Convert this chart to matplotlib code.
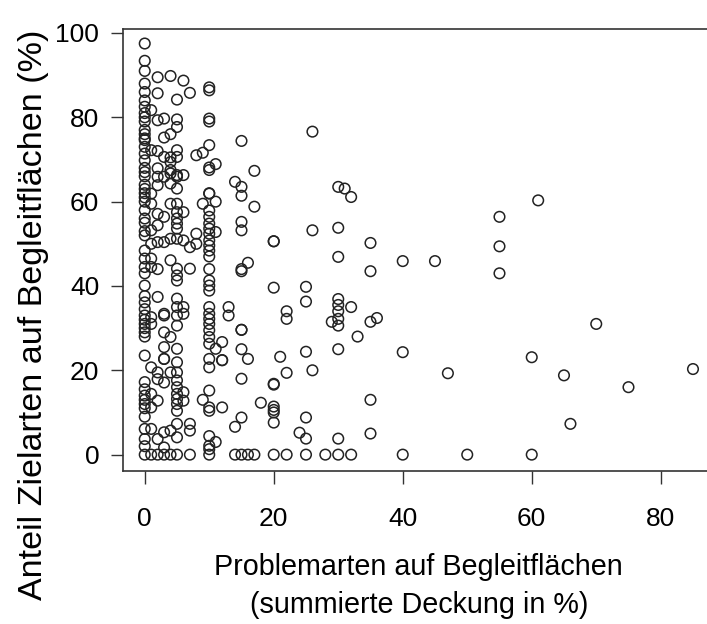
import matplotlib
matplotlib.use("Agg")
import matplotlib.pyplot as plt
import numpy as np

plt.rcParams['font.family'] = ['Liberation Sans', 'DejaVu Sans']

# Zielarten-Anteil (%) je Deckung der Problemarten (%), dichte Spalten
y_at_0 = [97.5, 93.4, 91, 88, 86, 84, 82.5, 81, 80, 79, 77, 76, 75, 74.6, 73, 71.4,
          69.8, 68, 67, 66, 64, 63, 62, 61, 60, 58, 56, 55, 53, 52, 48.4, 46.5, 44.5,
          43, 40.1, 37.6, 36.1, 34.5, 33, 32, 31, 30, 29, 28, 23.5, 17.2, 15.5, 14,
          13, 12, 11, 9, 6.1, 3.7, 2, 0]
y_at_1 = [81.7, 72.2, 61.9, 59.5, 53.2, 50, 46.5, 44.5, 32.6, 31, 20.7, 14.4, 11.2,
          6.1, 0]
y_at_2 = [89.5, 85.7, 79.3, 72, 67.9, 65.9, 63.9, 57.1, 54.4, 50.4, 44, 37.4, 19.5,
          17.9, 12.8, 3.7, 0]
y_at_3 = [79.7, 75.2, 70.6, 65.9, 56.4, 50.4, 33.4, 33, 29, 25.5, 22.7, 22.7, 17.1,
          5.3, 1.7, 0]
y_at_4 = [89.8, 76, 70.5, 69.4, 67.5, 66.7, 64.3, 59.5, 51.2, 46.1, 27.9, 19.5, 5.7, 0]
y_at_5 = [84.2, 79.5, 77.7, 72.2, 70.6, 66.3, 65.9, 63.1, 59.5, 57.5, 56, 54.8, 53.6,
          51.2, 44.1, 42.5, 41.3, 37, 35, 33, 30.6, 25.1, 21.9, 19.5, 17.6, 16, 14.4,
          13.2, 12, 10.4, 7.3, 4.1, 0]
y_at_6 = [88.7, 66.3, 57.5, 50.8, 35, 33.4, 14.8, 12.8]
y_at_7 = [85.8, 49.2, 44.1, 7.3, 5.7, 0]
y_at_8 = [71, 52.4, 50]
y_at_9 = [71.6, 59.5, 13]
y_at_10 = [87.1, 86.4, 79.7, 79, 73.4, 68.1, 67.5, 62, 61.9, 57.9, 56.4, 54.8, 53.6,
           52.4, 50.8, 49.6, 48.4, 47, 44, 41.3, 40.1, 38.9, 35, 33.4, 32.2, 31, 29.5,
           27.9, 26.3, 22.7, 20.7, 15.2, 11.2, 10.4, 4.4, 2.1, 1.3, 0]
y_at_11 = [68.9, 60, 52.8, 25.1, 3.0]
y_at_12 = [26.7, 22.4, 22.4, 11.2]

dense_cover = [0, 1, 2, 3, 4, 5, 6, 7, 8, 9, 10, 11, 12]
dense_share = [y_at_0, y_at_1, y_at_2, y_at_3, y_at_4, y_at_5, y_at_6, y_at_7,
               y_at_8, y_at_9, y_at_10, y_at_11, y_at_12]

# einzelne Punkte bei hoeherer Deckung
sparse_cover = [13, 13, 14, 14, 14,
                15, 15, 15, 15, 15, 15, 15, 15, 15, 15, 15, 15, 15,
                16, 16, 16, 17, 17, 17, 18,
                20, 20, 20, 20, 20, 20, 20, 20, 20, 20, 21, 22, 22, 22, 22, 24,
                25, 25, 25, 25, 25, 25, 26, 26, 26, 28, 29,
                30, 30, 30, 30, 30, 30, 30, 30, 30, 30, 30, 31, 32, 32, 32, 33,
                35, 35, 35, 35, 35, 36, 40, 40, 40, 45, 47, 50,
                55, 55, 55, 60, 60, 61, 65, 66, 70, 75, 85]
sparse_share = [35, 33, 64.7, 6.6, 0,
                74.4, 63.5, 61.4, 55.2, 53.2, 44, 43.5, 29.6, 29.6, 25, 18, 8.8, 0,
                45.5, 22.7, 0, 67.3, 58.8, 0, 12.3,
                50.6, 50.6, 39.6, 16.8, 16.6, 11.4, 10.6, 10, 7.6, 0, 23.2, 34, 32.2, 19.4, 0, 5.2,
                39.8, 36.3, 24.4, 8.8, 3.8, 0, 76.6, 53.2, 20, 0, 31.5,
                63.5, 53.8, 46.9, 36.9, 35.5, 34, 32.2, 30.6, 25, 3.8, 0, 63.1, 61.1, 35, 0, 28,
                50.2, 43.5, 31.5, 13, 5, 32.4, 45.9, 24.3, 0, 45.9, 19.3, 0,
                56.4, 49.4, 43, 23.1, 0, 60.3, 18.8, 7.3, 31, 16, 20.3]

xs = []
ys = []
for c, vals in zip(dense_cover, dense_share):
    xs += [c] * len(vals)
    ys += vals
xs += sparse_cover
ys += sparse_share

fig = plt.figure(figsize=(7.07, 6.24), dpi=100)
ax = fig.add_axes([0.1737, 0.2452, 0.8375, 0.7079])
ax.scatter(xs, ys, s=58, facecolors='none', edgecolors='#222222', linewidths=1.1)

ax.set_xlim(-3.4, 88.4)
ax.set_ylim(-3.88, 100.88)
ax.set_xticks([0, 20, 40, 60, 80])
ax.set_yticks([0, 20, 40, 60, 80, 100])
ax.tick_params(axis='both', direction='out', length=9, width=1, labelsize=19, color='#333333')
ax.tick_params(axis='x', pad=17)
ax.tick_params(axis='y', pad=8)
for s in ax.spines.values():
    s.set_linewidth(1.2)
    s.set_color('#333333')

ax.set_xlabel('Problemarten auf Begleitflächen\n(summierte Deckung in %)', fontsize=20.7,
              labelpad=16, linespacing=1.45)
ax.set_ylabel('Anteil Zielarten auf Begleitflächen (%)', fontsize=24.5)
ax.yaxis.set_label_coords(-0.125, 0.353)

fig.savefig('out.png', dpi=100)
